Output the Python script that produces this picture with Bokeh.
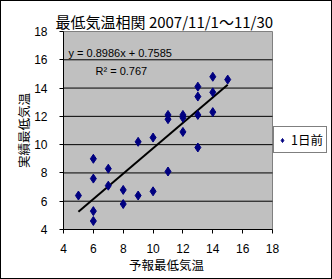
from bokeh.plotting import figure
from bokeh.models import Range1d, Label, Legend, LegendItem, FixedTicker, ColumnDataSource, InlineStyleSheet
from bokeh.embed import file_html
from bokeh.resources import INLINE

# Data
forecast = [5, 6, 6, 6, 6, 7, 7, 8, 8, 9, 9, 10, 10, 11, 11, 11, 12, 12, 12, 13, 13, 13, 13, 14, 14, 14, 15]
actual = [6.4, 9.0, 7.6, 5.3, 4.6, 8.3, 7.1, 6.8, 5.8, 10.2, 6.4, 10.5, 6.7, 12.1, 11.8, 8.1, 12.1, 11.9, 10.9,
          14.1, 13.4, 12.1, 9.8, 14.8, 13.7, 12.3, 14.6]
slope = 0.8986
intercept = 0.7585
r2 = 0.767
trend_x = [5, 15]
trend_y = [slope * x + intercept for x in trend_x]
ticks = [4, 6, 8, 10, 12, 14, 16, 18]
axis_min, axis_max = 4, 18

title_text = "最低気温相関  2007/11/1～11/30"
series_name = "1日前"
x_title = "予報最低気温"
y_title = "実績最低気温"

JP = "Noto Sans CJK JP"
NUM = "Liberation Sans"

W, H = 332, 279
# plot area in pixels: x 63..272 for 4..18, y 229..31 for 4..18; frame = whole canvas
ppx = 209 / (axis_max - axis_min)
ppy = 198 / (axis_max - axis_min)
x_start = axis_min - 63 / ppx
x_end = axis_min + (W - 63) / ppx
y_start = axis_min - (H - 229) / ppy
y_end = axis_min + 229 / ppy

p = figure(width=W, height=H, output_backend="svg", toolbar_location=None,
           x_range=Range1d(x_start, x_end), y_range=Range1d(y_start, y_end),
           min_border=0)
p.background_fill_color = None
p.border_fill_color = None
p.outline_line_color = None
p.grid.visible = False

# gray plot area
p.quad(left=[axis_min], right=[axis_max], bottom=[axis_min], top=[axis_max],
       fill_color="#C0C0C0", line_color="#808080", line_width=1)
# horizontal gridlines
inner = ticks[1:-1]
p.segment(x0=[axis_min] * len(inner), x1=[axis_max] * len(inner), y0=inner, y1=inner,
          line_color="black", line_width=1)

for ax in (p.xaxis[0], p.yaxis[0]):
    ax.ticker = FixedTicker(ticks=ticks)
    ax.bounds = (axis_min, axis_max)
    ax.fixed_location = axis_min
    ax.axis_line_color = "black"
    ax.major_tick_line_color = "black"
    ax.minor_tick_line_color = None
    ax.major_tick_out = 4
    ax.major_tick_in = 0
    ax.major_label_text_font = NUM
    ax.major_label_text_font_size = "12px"
    ax.major_label_text_color = "black"

p.xaxis.major_label_standoff = 10
p.yaxis.major_label_standoff = 12

src = ColumnDataSource(dict(x=forecast, y=actual))
p.line(trend_x, trend_y, line_color="black", line_width=2)
pts = p.scatter("x", "y", source=src, marker="diamond", size=9,
                fill_color="#000080", line_color="#000080")

legend = Legend(items=[LegendItem(label=series_name, renderers=[pts])],
                location=(273, H - 153), orientation="vertical")
legend.label_text_font = JP
legend.label_text_font_size = "12.5px"
legend.label_text_color = "black"
legend.border_line_color = "black"
legend.border_line_width = 1
legend.background_fill_color = "white"
legend.background_fill_alpha = 1
legend.padding = 3
legend.margin = 0
legend.spacing = 0
legend.glyph_width = 10
legend.glyph_height = 12
legend.label_standoff = 4
legend.label_height = 12
p.add_layout(legend)

def screen_label(x, y, text, font, size, align="center", angle=0.0):
    return Label(x=x, y=H - y, x_units="screen", y_units="screen", text=text,
                 text_font=font, text_font_size=size, text_align=align,
                 text_baseline="middle", text_color="black", angle=angle)

p.add_layout(screen_label(165.5, 21, title_text, JP, "15px"))
p.add_layout(screen_label(68, 52, f"y = {slope}x + {intercept}", NUM, "11px", "left"))
p.add_layout(screen_label(95, 70, f"R² = {r2}", NUM, "11px", "left"))
p.add_layout(screen_label(166, 264, x_title, JP, "12.5px"))
p.add_layout(screen_label(22.5, 130, y_title, JP, "12.5px", angle=1.5707963))

p.stylesheets = [InlineStyleSheet(css=":host { outline: 1px solid black; outline-offset: -1px; }")]

open("out.html", "w").write(file_html(p, INLINE))
